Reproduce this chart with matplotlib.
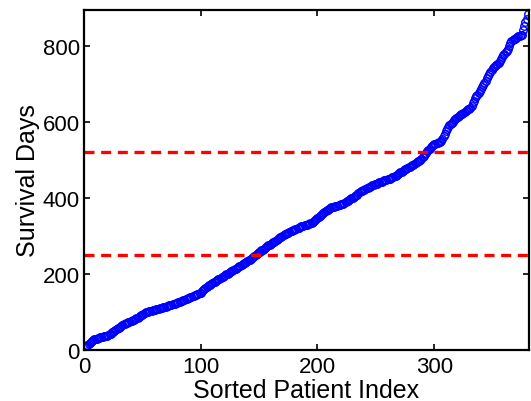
#
# Sorted survival days with two threshold lines
#

import numpy as np
import matplotlib
matplotlib.use('Agg')
from matplotlib import pyplot as plt

plt.rcParams['font.family'] = ['Liberation Sans', 'DejaVu Sans']

# =========================================================================

survival_days = [
    8, 11, 13, 16, 18, 21, 23, 25, 28, 29, 30, 31, 32, 33, 34, 35, 36, 37, 38, 38,
    39, 41, 43, 46, 48, 51, 53, 55, 57, 59, 61, 63, 65, 67, 69, 71, 72, 73, 74, 75,
    77, 78, 79, 81, 83, 85, 87, 89, 91, 93, 95, 97, 99, 100, 101, 102, 102, 103, 104, 105,
    106, 107, 108, 109, 110, 111, 111, 112, 113, 114, 115, 116, 117, 118, 119, 120, 121, 122, 123, 124,
    125, 127, 128, 129, 131, 132, 133, 135, 136, 137, 139, 140, 141, 143, 144, 145, 146, 147, 149, 151,
    154, 157, 160, 163, 166, 168, 170, 172, 174, 176, 178, 180, 182, 184, 186, 188, 189, 191, 193, 195,
    197, 199, 201, 203, 205, 207, 209, 211, 212, 214, 216, 218, 220, 222, 224, 226, 228, 230, 232, 233,
    236, 238, 240, 242, 244, 247, 249, 252, 254, 257, 259, 262, 264, 266, 269, 271, 273, 275, 277, 279,
    281, 283, 285, 287, 290, 292, 294, 296, 298, 300, 302, 304, 305, 307, 309, 310, 312, 313, 315, 316,
    318, 319, 321, 322, 324, 325, 326, 327, 328, 329, 330, 331, 332, 333, 334, 337, 339, 341, 344, 347,
    350, 353, 355, 358, 360, 362, 365, 367, 369, 372, 374, 375, 376, 377, 378, 379, 380, 381, 382, 383,
    384, 385, 387, 389, 391, 393, 395, 397, 399, 401, 403, 405, 407, 409, 412, 416, 418, 419, 421, 422,
    424, 425, 427, 428, 430, 431, 433, 434, 436, 437, 438, 440, 441, 442, 443, 444, 446, 447, 448, 449,
    450, 451, 453, 454, 456, 457, 459, 461, 463, 465, 467, 469, 471, 473, 475, 477, 479, 481, 482, 484,
    486, 488, 490, 492, 494, 496, 498, 500, 503, 507, 511, 515, 519, 523, 526, 530, 534, 537, 540, 542,
    543, 544, 545, 546, 547, 549, 555, 562, 569, 576, 582, 588, 591, 594, 598, 601, 605, 608, 610, 613,
    615, 617, 620, 622, 624, 627, 629, 631, 633, 635, 637, 643, 650, 656, 662, 668, 672, 677, 681, 686,
    691, 697, 703, 709, 715, 721, 726, 732, 738, 741, 744, 747, 750, 753, 756, 760, 765, 770, 775, 780,
    784, 787, 793, 800, 807, 813, 815, 817, 819, 821, 823, 825, 827, 828, 830, 842, 853, 862, 872, 884,
]
thresholds = [250, 522]
x_ticks = [0, 100, 200, 300]
y_ticks = [0, 200, 400, 600, 800]

# =========================================================================

def survivalPlot():

  """ plots sorted survival days and the two thresholds """

  idx = np.arange(1, len(survival_days) + 1)

  fig = plt.figure(figsize=(5.31, 4.02), dpi=100)
  ax = fig.add_axes([0.158, 0.127, 0.838, 0.846])

  ax.plot(idx, survival_days, 'o', mfc='none', mec='blue', ms=5.4, mew=1.0)
  for t in thresholds:
    ax.axhline(t, color='red', lw=2.4, ls=(0, (3, 2)))

  ax.set_xlim(0, 381)
  ax.set_ylim(0, 895)
  ax.set_xticks(x_ticks)
  ax.set_yticks(y_ticks)
  ax.tick_params(direction='in', length=4, width=1.2, labelsize=16,
                 top=True, right=True)
  ax.tick_params(axis='x', pad=4)
  ax.tick_params(axis='y', pad=3)
  for s in ax.spines.values():
    s.set_linewidth(1.6)

  ax.set_xlabel('Sorted Patient Index', fontsize=18, labelpad=1)
  ax.set_ylabel('Survival Days', fontsize=18, labelpad=2)

  fig.savefig('out.png', dpi=100)

# ============================= mainProgram ===============================

survivalPlot()
